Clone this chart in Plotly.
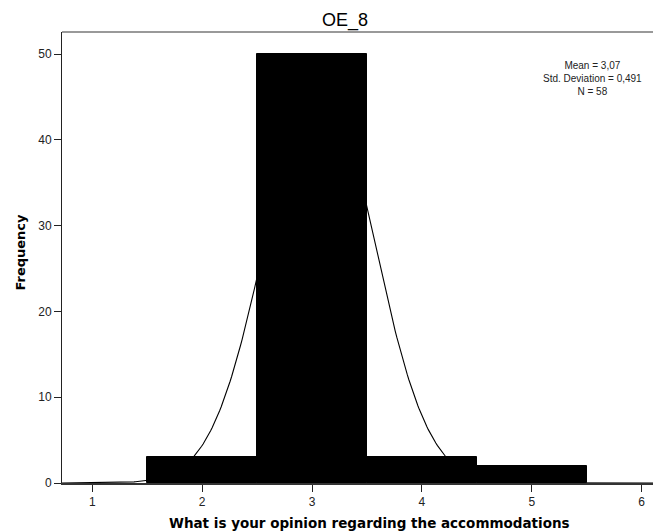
import numpy as np
import plotly.graph_objects as go

# Data
bin_centers = [2, 3, 4, 5]
counts = [3, 50, 3, 2]
bin_width = 1.0
mean_val = 3.07
std_val = 0.491
n_val = 58
x_ticks = [1, 2, 3, 4, 5, 6]
y_ticks = [0, 10, 20, 30, 40, 50]
title_text = "OE_8"
x_title = "What is your opinion regarding the accommodations"
y_title = "Frequency"
stats_lines = ["Mean = 3,07", "Std. Deviation = 0,491", "N = 58"]

x_range = [0.724, 6.176]
y_range = [0, 52.57]

# page has an 8px body margin; compensate so plot area sits at page (62..661, 32..483)
W, H = 653, 524
ML, MR, MT, MB = 54, 0, 24, 49

fig = go.Figure()
fig.add_trace(go.Bar(
    x=bin_centers, y=counts, width=[bin_width] * len(bin_centers),
    marker=dict(color="black", line=dict(color="black", width=1)),
    showlegend=False, hoverinfo="x+y",
))

xs = np.linspace(x_range[0], x_range[1], 400)
ys = n_val * bin_width / (std_val * np.sqrt(2 * np.pi)) * np.exp(-0.5 * ((xs - mean_val) / std_val) ** 2)
fig.add_trace(go.Scatter(x=xs, y=ys, mode="lines", line=dict(color="black", width=1.1),
                         showlegend=False, hoverinfo="skip"))

arial = "Liberation Sans, Arial, sans-serif"
bold = "DejaVu Sans, Verdana, sans-serif"
fig.update_layout(
    width=W, height=H,
    margin=dict(l=ML, r=MR, t=MT, b=MB, pad=0),
    paper_bgcolor="white", plot_bgcolor="white",
    title=dict(text=title_text, x=337 / W, xanchor="center", xref="container",
               y=1 - 12 / H, yanchor="middle",
               font=dict(family=arial, size=18, color="black")),
    font=dict(family=arial, color="#222"),
    bargap=0,
)

# stats text block
fig.add_annotation(text="<br>".join(stats_lines), x=5.556, y=47.1, xref="x", yref="y",
                   showarrow=False, xanchor="center", yanchor="middle", align="center",
                   font=dict(family=arial, size=10, color="#222"))

# axis titles
fig.add_annotation(text="<b>" + x_title + "</b>", x=1.677, xref="x", xanchor="left",
                   y=-(515 - (H - MB)) / (H - MT - MB), yref="paper", yanchor="middle",
                   showarrow=False, font=dict(family=bold, size=13.5, color="black"))
fig.add_annotation(text="<b>" + y_title + "</b>", x=(13 - ML) / (W - ML - MR), xref="paper",
                   xanchor="center", y=26.86, yref="y", yanchor="middle", textangle=-90,
                   showarrow=False, font=dict(family=bold, size=13, color="black"))

fig.update_xaxes(range=x_range, tickvals=x_ticks, ticks="outside", ticklen=7, tickcolor="#222",
                 tickwidth=1, showline=True, linecolor="#333", linewidth=1.5, showgrid=False,
                 zeroline=False, tickfont=dict(size=12, color="#222"))
fig.update_yaxes(range=y_range, tickvals=y_ticks, ticks="outside", ticklen=7, tickcolor="#222",
                 tickwidth=1, showline=True, linecolor="#222", linewidth=1, showgrid=False,
                 zeroline=False, tickfont=dict(size=12, color="#222"))
fig.add_shape(type="line", xref="paper", yref="paper", x0=0, x1=1, y0=1, y1=1,
              line=dict(color="#999", width=2))

fig.write_html("out.html")
